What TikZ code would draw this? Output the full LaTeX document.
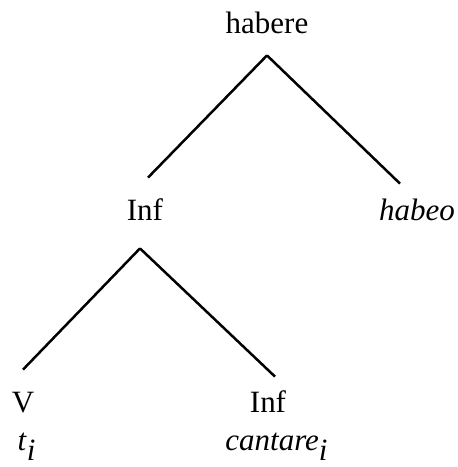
\documentclass[tikz,border=0pt]{standalone}
\usepackage{fontspec}
\setmainfont{Liberation Serif}
\usepackage{tikz}
\tikzset{
  tree/.style={font=\fontsize{15.5}{18}\selectfont,x=0.5pt,y=-0.5pt},
  cat/.style={anchor=base,inner sep=0pt,text height=21pt,text depth=11pt},
  word/.style={anchor=base,inner sep=0pt},
  branch/.style={line width=1.25pt,line cap=butt},
}

\begin{document}
\begin{tikzpicture}[tree]
  \useasboundingbox (0,0) rectangle (458,467);

  \node[cat] (habere) at (267,33) {habere};
  \node[cat] (infa) at (145,220) {Inf};
  \node[cat] (habeo) at (417,220) {\textit{habeo}};
  \node[cat] (verb) at (23,412) {V};
  \node[cat] (infb) at (268,412) {Inf};

  \node[word] (trace) at (27,450) {\textit{t}$_{\textit{i}}$};
  \node[word] (cantare) at (277,450) {\textit{cantare}$_{\textit{i}}$};

  \draw[branch] (habere.south) -- ([xshift=1.5pt]infa.north);
  \draw[branch] (habere.south) -- ([xshift=-8.5pt,yshift=-3pt]habeo.north);
  \draw[branch] ([xshift=-2.5pt,yshift=-3pt]infa.south) -- (verb.north);
  \draw[branch] ([xshift=-2.5pt,yshift=-3pt]infa.south) -- ([xshift=3.5pt,yshift=-3.5pt]infb.north);
\end{tikzpicture}
\end{document}
